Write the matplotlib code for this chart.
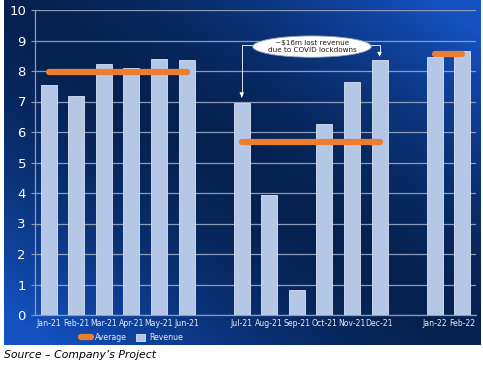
import numpy as np
import matplotlib
matplotlib.use("Agg")
from matplotlib import pyplot as plt
from matplotlib.patches import Ellipse, Patch
from matplotlib.lines import Line2D

months = ["Jan-21", "Feb-21", "Mar-21", "Apr-21", "May-21", "Jun-21",
          "Jul-21", "Aug-21", "Sep-21", "Oct-21", "Nov-21", "Dec-21",
          "Jan-22", "Feb-22"]
slots = [0, 1, 2, 3, 4, 5, 7, 8, 9, 10, 11, 12, 14, 15]
revenue = [7.55, 7.18, 8.22, 8.10, 8.40, 8.37,
           6.95, 3.93, 0.82, 6.25, 7.63, 8.37,
           8.45, 8.65]
# average per period: (first slot, last slot, value)
avg_start = [0, 7, 14]
avg_end = [5, 12, 15]
avg_value = [7.97, 5.67, 8.55]

fig = plt.figure(figsize=(4.83, 3.66), dpi=100)

# gradient panel behind the chart
bg = fig.add_axes([4 / 483, 21 / 366, 476 / 483, 345 / 366])
bg.set_axis_off()
gx, gy = np.meshgrid(np.linspace(0, 1, 200), np.linspace(1, 0, 150))
t = np.clip(np.abs(gx + gy - 1.0) * 1.1, 0, 1) ** 1.6
dark = np.array([0.02, 0.13, 0.31])
light = np.array([0.08, 0.32, 0.76])
img = dark[None, None, :] * (1 - t[..., None]) + light[None, None, :] * t[..., None]
bg.imshow(img, aspect="auto", extent=[0, 1, 0, 1])

ax = fig.add_axes([35 / 483, 51 / 366, 441 / 483, 305 / 366])
ax.patch.set_alpha(0)

ax.bar(slots, revenue, width=0.58, color="#B4C7E7", edgecolor="#DCE4F4",
       linewidth=0.6, zorder=3, label="Revenue")
for s, e, v in zip(avg_start, avg_end, avg_value):
    ax.plot([s, e], [v, v], color="#ED7D31", lw=4.5, solid_capstyle="round",
            zorder=4)

ax.set_xlim(-0.5, 15.5)
ax.set_ylim(0, 10)
ax.set_yticks(range(0, 11))
ax.set_xticks(slots)
ax.set_xticklabels(months)
ax.grid(axis="y", color="#8E9BB8", lw=0.9, zorder=1)
ax.tick_params(axis="y", colors="#8E9BB8", labelcolor="white", labelsize=9.5,
               length=3, pad=3.5)
ax.tick_params(axis="x", length=0, labelcolor="#E6ECF8", labelsize=5.6, pad=3)
for sp in ["top", "right"]:
    ax.spines[sp].set_visible(False)
ax.spines["left"].set_color("#8E9BB8")
ax.spines["bottom"].set_color("#8E9BB8")
ax.spines["left"].set_linewidth(0.9)
ax.spines["bottom"].set_linewidth(0.9)

# annotation bubble with connectors
ax.add_patch(Ellipse((9.55, 8.80), 4.3, 0.70, facecolor="white",
                     edgecolor="#8E9BB8", lw=0.6, zorder=6))
ax.text(9.55, 8.80, "~$16m lost revenue\ndue to COVID lockdowns", fontsize=5.2,
        ha="center", va="center", color="#1A1A1A", zorder=7, linespacing=1.3)
ax.plot([7.42, 7, 7], [8.85, 8.85, 7.2], color="#DCE4F4", lw=0.7, zorder=5)
ax.plot([11.7, 12, 12], [8.85, 8.85, 8.55], color="#DCE4F4", lw=0.7, zorder=5)
ax.annotate("", xy=(7, 7.05), xytext=(7, 7.25),
            arrowprops=dict(arrowstyle="-|>", color="white", lw=0.7,
                            mutation_scale=6), zorder=5)
ax.annotate("", xy=(12, 8.47), xytext=(12, 8.62),
            arrowprops=dict(arrowstyle="-|>", color="white", lw=0.7,
                            mutation_scale=6), zorder=5)

handles = [Line2D([0], [0], color="#ED7D31", lw=4.5, solid_capstyle="round"),
           Patch(facecolor="#B4C7E7", edgecolor="#DCE4F4", lw=0.6)]
leg = ax.legend(handles, ["Average", "Revenue"], loc="center left",
                bbox_to_anchor=(0.105, -0.075), ncol=2, frameon=False,
                fontsize=5.6, handlelength=1.2, handleheight=1.0,
                columnspacing=1.2, handletextpad=0.5, borderpad=0,
                borderaxespad=0)
for txt in leg.get_texts():
    txt.set_color("#E6ECF8")

fig.text(4 / 483, 1 - 355 / 366, "Source \u2013 Company\u2019s Project",
         fontsize=7.8, style="italic", ha="left", va="center", color="black")

fig.savefig("out.png", dpi=100)
